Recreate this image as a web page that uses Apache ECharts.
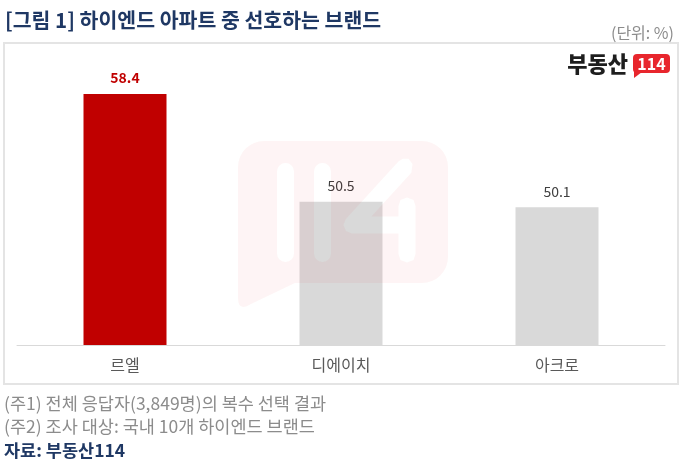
<!DOCTYPE html>
<html>
<head>
<meta charset="utf-8">
<script src="https://cdn.jsdelivr.net/npm/echarts@6/dist/echarts.min.js"></script>
<style>
html,body{margin:0;padding:0;background:#fff;}
#main{width:680px;height:464px;}
</style>
</head>
<body>
<div id="main"></div>
<script>
const categories = ['르엘', '디에이치', '아크로'];
const values = [58.4, 50.5, 50.1];
const barColors = ['#c00000', '#d9d9d9', '#d9d9d9'];
const titleText = '[그림 1] 하이엔드 아파트 중 선호하는 브랜드';
const unitText = '(단위: %)';
const notes = ['(주1) 전체 응답자(3,849명)의 복수 선택 결과', '(주2) 조사 대상: 국내 10개 하이엔드 브랜드'];
const sourceText = '자료: 부동산114';

const FONT = "'Noto Sans CJK KR', 'Noto Sans', sans-serif";
const chart = echarts.init(document.getElementById('main'));

// watermark path: bubble (counter-clockwise) with 114 holes (clockwise)
function capsule(x1, x2, y1, y2) {
  const r = (x2 - x1) / 2;
  return `M ${x1} ${y1 + r} A ${r} ${r} 0 0 1 ${x2} ${y1 + r} L ${x2} ${y2 - r} A ${r} ${r} 0 0 1 ${x1} ${y2 - r} Z `;
}
const R = 26;
const bubble = `M ${448 - R} 141 L ${238 + R} 141 A ${R} ${R} 0 0 0 238 ${141 + R} L 238 298 Q 238 312 251 304 L 295 283 L ${448 - R} 283 A ${R} ${R} 0 0 0 448 ${283 - R} L 448 ${141 + R} A ${R} ${R} 0 0 0 ${448 - R} 141 Z `;
const four = 'M 398.7 161.3 L 403 158.7 L 408.5 158.8 L 412.5 164 L 411.3 172.7 L 371.3 216.5 L 398.5 216.5 L 398.5 206 L 400.5 200 L 407 197.5 L 413.5 200 L 415.5 206 L 415.5 254 L 413.5 260 L 407 262.5 L 400.5 260 L 398.5 254 L 398.5 233.5 L 352 233.5 L 346 231 L 343.5 225 L 345.7 219.3 Z ';
const watermarkPath = bubble + capsule(277, 294, 163, 262) + capsule(314, 331, 163, 262) + four;

const option = {
  animation: false,
  grid: { left: 17, right: 15, top: 45, bottom: 119 },
  xAxis: {
    type: 'category',
    data: categories,
    axisLine: { lineStyle: { color: '#d9d9d9', width: 1 } },
    axisTick: { show: false },
    axisLabel: { color: '#595959', fontSize: 16, fontFamily: FONT, margin: 12 }
  },
  yAxis: {
    type: 'value', min: 40, max: 62, show: false,
    splitLine: { show: false }
  },
  series: [{
    type: 'bar',
    barWidth: 83,
    data: values.map((v, i) => ({
      value: v,
      itemStyle: { color: barColors[i] },
      label: i === 0 ? { color: '#c00000', fontWeight: 'bold' } : { color: '#404040' }
    })),
    label: { show: true, position: 'top', distance: 9, fontSize: 14, fontFamily: FONT }
  }, {
    type: 'custom',
    coordinateSystem: 'none',
    z: 10,
    silent: true,
    data: [0],
    renderItem: function () {
      return {
        type: 'path',
        shape: { pathData: watermarkPath },
        style: { fill: 'rgba(230,0,18,0.045)' }
      };
    }
  }],
  graphic: [
    { type: 'rect', z: -10, shape: { x: 4, y: 43, width: 674, height: 341 }, style: { fill: 'none', stroke: '#e4e4e4', lineWidth: 2 } },
    { type: 'text', z: 5, style: { x: 5, y: 20, text: titleText, fill: '#1f3864', font: `bold 20.5px ${FONT}`, verticalAlign: 'middle' } },
    { type: 'text', z: 5, style: { x: 674, y: 33, text: unitText, fill: '#8c8c8c', font: `16px ${FONT}`, align: 'right', verticalAlign: 'middle' } },
    // logo
    { type: 'text', z: 20, style: { x: 628, y: 64, text: '부동산', fill: '#1e1e1e', font: `900 22px ${FONT}`, align: 'right', verticalAlign: 'middle' } },
    { type: 'rect', z: 20, shape: { x: 633, y: 54, width: 37, height: 19, r: 4 }, style: { fill: '#e8262d' } },
    { type: 'polygon', z: 20, shape: { points: [[634, 70], [642, 72], [634, 78]] }, style: { fill: '#e8262d' } },
    { type: 'text', z: 21, style: { x: 651.5, y: 64, text: '114', fill: '#fff', font: `bold 16px ${FONT}`, align: 'center', verticalAlign: 'middle' } },
    // notes
    { type: 'text', z: 5, style: { x: 4, y: 403, text: notes[0], fill: '#8c8c8c', font: `17.5px ${FONT}`, verticalAlign: 'middle' } },
    { type: 'text', z: 5, style: { x: 4, y: 426, text: notes[1], fill: '#8c8c8c', font: `17.5px ${FONT}`, verticalAlign: 'middle' } },
    { type: 'text', z: 5, style: { x: 4, y: 450, text: sourceText, fill: '#1f3864', font: `bold 17.5px ${FONT}`, verticalAlign: 'middle' } }
  ]
};
chart.setOption(option);
</script>
</body>
</html>
